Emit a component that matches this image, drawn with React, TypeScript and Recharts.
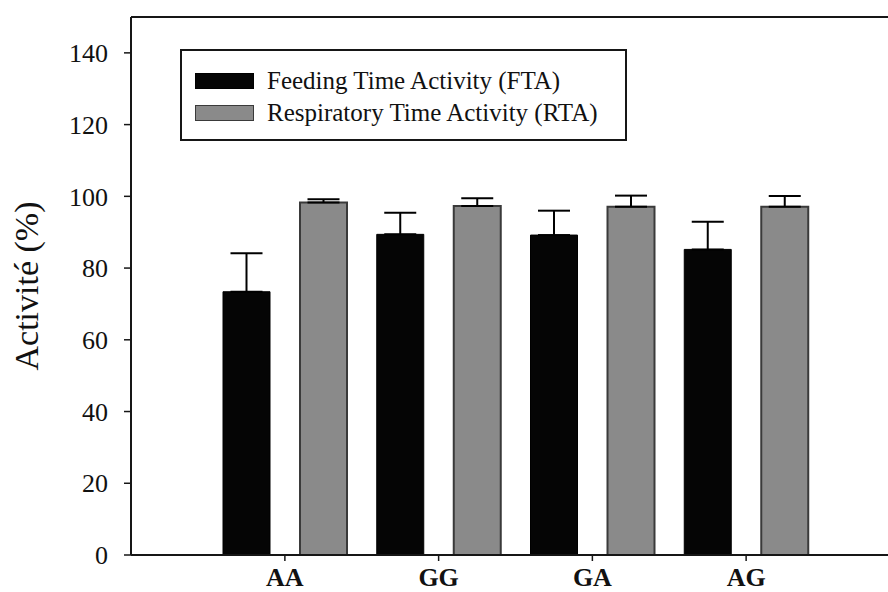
import React from "react";
import {
  BarChart,
  Bar,
  XAxis,
  YAxis,
  ErrorBar,
  ReferenceLine,
} from "recharts";

// genotypes on the x axis
const categories = ["AA", "GG", "GA", "AG"];

// Feeding Time Activity (mean, upper error)
const ftaValues = [73.4, 89.4, 89.2, 85.2];
const ftaErrors = [10.7, 6.0, 6.8, 7.7];

// Respiratory Time Activity (mean, upper error)
const rtaValues = [98.3, 97.3, 97.1, 97.1];
const rtaErrors = [0.9, 2.2, 3.1, 3.0];

const yTicks = [0, 20, 40, 60, 80, 100, 120, 140];

const FONT = '"Liberation Serif", "Times New Roman", serif';
const INK = "#161616";

const series = [
  { key: "fta", name: "Feeding Time Activity (FTA)", fill: "#050505", stroke: "#000" },
  { key: "rta", name: "Respiratory Time Activity (RTA)", fill: "#8a8a8a", stroke: "#3a3a3a" },
];

const data = categories.map((name, i) => ({
  name,
  fta: ftaValues[i],
  rta: rtaValues[i],
  // one-sided error bars: nothing below the mean
  ftaErr: [0, ftaErrors[i]],
  rtaErr: [0, rtaErrors[i]],
}));

// legend drawn as an overlay so it doesn't eat into the plot height
const LegendBox = () => (
  <div
    style={{
      position: "absolute",
      left: 180,
      top: 49,
      width: 447,
      height: 92,
      boxSizing: "border-box",
      border: `2px solid ${INK}`,
      background: "#fff",
      paddingTop: 14,
      paddingLeft: 13,
      fontFamily: FONT,
      fontSize: 25,
      color: "#111",
    }}
  >
    {series.map((s) => (
      <div
        key={s.key}
        style={{ display: "flex", alignItems: "center", height: 32 }}
      >
        <span
          style={{
            display: "inline-block",
            width: 59,
            height: 16,
            boxSizing: "border-box",
            background: s.fill,
            border: `1px solid ${s.stroke}`,
            marginRight: 13,
          }}
        />
        <span>{s.name}</span>
      </div>
    ))}
  </div>
);

export default function App() {
  return (
    <div
      style={{
        position: "fixed",
        left: 0,
        top: 0,
        width: 888,
        height: 592,
        overflow: "hidden",
        background: "#fff",
      }}
    >
      <BarChart
        width={900}
        height={592}
        data={data}
        margin={{ top: 17, right: 0, left: 0, bottom: 0 }}
        barSize={47}
        barGap={30}
      >
        <ReferenceLine y={150} stroke={INK} strokeWidth={2} />
        <XAxis
          dataKey="name"
          height={37}
          padding={{ left: 77, right: 77 }}
          axisLine={{ stroke: INK, strokeWidth: 2 }}
          tickLine={{ stroke: INK, strokeWidth: 1.5 }}
          tickSize={6}
          tickMargin={7}
          tick={{ fontFamily: FONT, fontSize: 26, fontWeight: 700, fill: "#111" }}
        />
        <YAxis
          width={131}
          domain={[0, 150]}
          ticks={yTicks}
          allowDataOverflow
          axisLine={{ stroke: INK, strokeWidth: 2 }}
          tickLine={{ stroke: INK, strokeWidth: 1.5 }}
          tickSize={7}
          tickMargin={16}
          tick={{ fontFamily: FONT, fontSize: 26, fill: "#111" }}
          label={{
            value: "Activité (%)",
            angle: -90,
            position: "insideLeft",
            offset: 26,
            style: {
              textAnchor: "middle",
              fontFamily: FONT,
              fontSize: 34,
              fill: "#111",
            },
          }}
        />
        {series.map((s) => (
          <Bar
            key={s.key}
            dataKey={s.key}
            name={s.name}
            fill={s.fill}
            stroke={s.stroke}
            strokeWidth={s.key === "rta" ? 2 : 1}
            isAnimationActive={false}
          >
            <ErrorBar
              dataKey={`${s.key}Err`}
              direction="y"
              width={16}
              stroke="#000"
              strokeWidth={2}
            />
          </Bar>
        ))}
      </BarChart>
      <LegendBox />
    </div>
  );
}
